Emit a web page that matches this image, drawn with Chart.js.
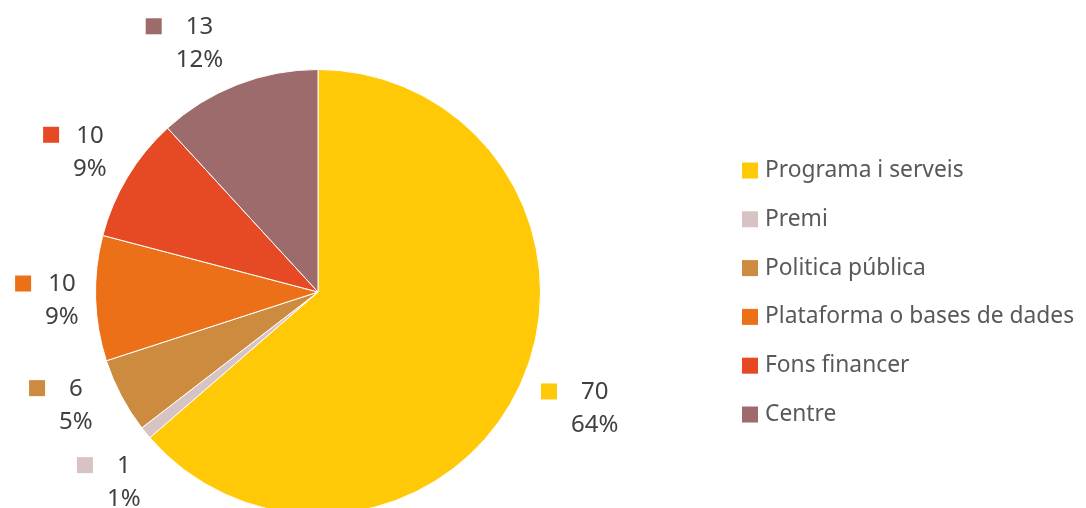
<!DOCTYPE html>
<html>
<head>
<meta charset="utf-8">
<script src="https://cdn.jsdelivr.net/npm/chart.js@4"></script>
<style>
  html, body { margin: 0; padding: 0; background: #ffffff; overflow: hidden; }
  #wrap { width: 1086px; height: 600px; }
</style>
</head>
<body>
<div id="wrap"><canvas id="chart" width="1086" height="600"></canvas></div>
<script>
// chart data
const labels = ['Programa i serveis', 'Premi', 'Politica pública', 'Plataforma o bases de dades', 'Fons financer', 'Centre'];
const values = [70, 1, 6, 10, 10, 13];
const colors = ['#FFC907', '#D8C3C4', '#CD8B40', '#EC7018', '#E54A25', '#9D6B6B'];

const FONT = '"Noto Sans", Lato, sans-serif';

/* -------------------------------------------------------------------------- */
/* Outside labels: key square + value + percent (best-fit style placement)    */
/* -------------------------------------------------------------------------- */
const outsideLabels = {
  id: 'outsideLabels',
  afterDatasetsDraw(chart) {
    const ctx = chart.ctx;
    const meta = chart.getDatasetMeta(0);
    const total = values.reduce((a, b) => a + b, 0);
    ctx.save();
    ctx.font = '24px ' + FONT;
    ctx.textAlign = 'center';
    ctx.textBaseline = 'middle';

    const boxH = 60;
    let cx = 0, cy = 0;
    // first pass: each box sits a small gap outside the pie edge
    const boxes = meta.data.map((arc, i) => {
      const p = arc.getProps(['x', 'y', 'startAngle', 'endAngle', 'outerRadius'], true);
      cx = p.x; cy = p.y;
      const val = String(values[i]);
      const pct = Math.round(values[i] / total * 100) + '%';
      const textW = Math.max(ctx.measureText(val).width, ctx.measureText(pct).width);
      const boxW = 30 + textW;
      let mid = (p.startAngle + p.endAngle) / 2;
      // steep labels lean a bit toward the horizontal
      const right = Math.cos(mid) >= 0;
      const base = right ? 0 : Math.PI;
      const rel = Math.atan2(Math.sin(mid - base), Math.cos(mid - base));
      mid = base + rel * (Math.abs(rel) > Math.PI / 4 ? 0.9 : 0.97);
      const d = p.outerRadius + 16 + Math.abs(Math.cos(mid)) * boxW / 2 + Math.abs(Math.sin(mid)) * boxH / 2;
      return { i, right, val, pct, textW, d, x: cx + Math.cos(mid) * d, y: cy + Math.sin(mid) * d };
    });

    // spread overlapping boxes apart, then slide them back onto their ring
    const gap = 77;
    [true, false].forEach(side => {
      const list = boxes.filter(b => b.right === side).sort((a, b) => a.y - b.y);
      for (let k = 1; k < list.length; k++) {
        const prev = list[k - 1], cur = list[k];
        const need = gap - (cur.y - prev.y);
        if (need > 0 && Math.abs(cur.x - prev.x) < 80) {
          prev.y -= need / 2;
          cur.y += need / 2;
          [prev, cur].forEach(b => {
            const dy = Math.max(-b.d, Math.min(b.d, b.y - cy));
            const dx = Math.sqrt(b.d * b.d - dy * dy);
            b.x = cx + (side ? dx : -dx);
          });
        }
      }
    });

    boxes.forEach(b => {
      const tx = b.x + 15;
      ctx.fillStyle = '#404040';
      ctx.fillText(b.val, tx, b.y - 15);
      ctx.fillText(b.pct, tx, b.y + 18);
      ctx.fillStyle = colors[b.i];
      ctx.fillRect(tx - b.textW / 2 - 30, b.y - 15 - 9, 16, 16);
    });
    ctx.restore();
  }
};

/* -------------------------------------------------------------------------- */
/* Right-side legend                                                          */
/* -------------------------------------------------------------------------- */
const sideLegend = {
  id: 'sideLegend',
  afterDraw(chart) {
    const ctx = chart.ctx;
    ctx.save();
    ctx.font = '22.8px ' + FONT;
    ctx.textAlign = 'left';
    ctx.textBaseline = 'middle';
    labels.forEach((lab, i) => {
      const y = 170.5 + i * 48.8;
      ctx.fillStyle = colors[i];
      ctx.fillRect(742, y - 8, 16, 16);
      ctx.fillStyle = '#595959';
      ctx.fillText(lab, 765, y);
    });
    ctx.restore();
  }
};

new Chart(document.getElementById('chart'), {
  type: 'pie',
  data: {
    labels: labels,
    datasets: [{
      data: values,
      backgroundColor: colors,
      borderColor: '#ffffff',
      borderWidth: 1
    }]
  },
  options: {
    responsive: false,
    animation: false,
    layout: { padding: { left: 95, top: 69, right: 545, bottom: 85 } },
    plugins: {
      legend: { display: false },
      tooltip: { enabled: false }
    }
  },
  plugins: [outsideLabels, sideLegend]
});
</script>
</body>
</html>
